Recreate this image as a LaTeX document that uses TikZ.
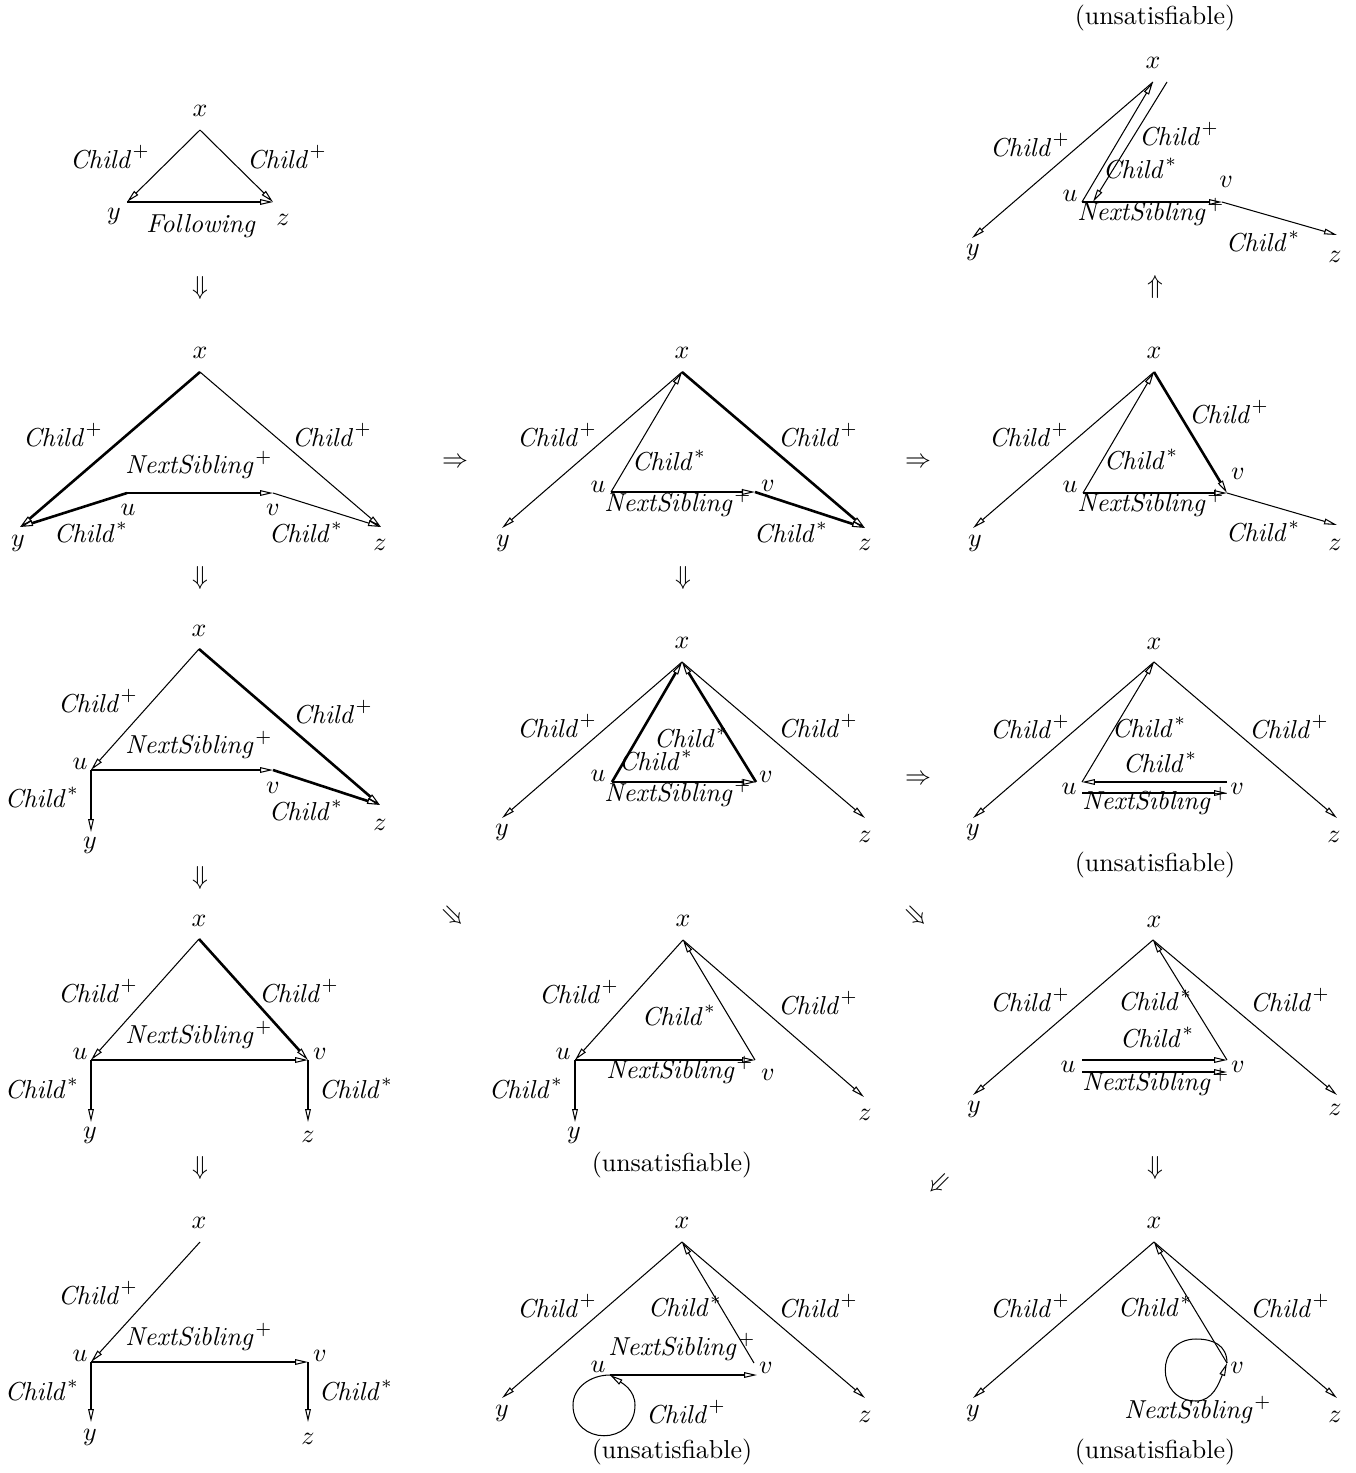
\documentclass[tikz,border=0pt]{standalone}
\usepackage{amssymb}
\usetikzlibrary{arrows.meta}
\newcommand{\Cplus}{$\mathit{Child}^+$}
\newcommand{\Cstar}{$\mathit{Child}^*$}
\newcommand{\NSplus}{$\mathit{NextSibling}^+$}
\tikzset{
  arr/.style={-{Triangle[open,length=5pt,width=2.2pt,line width=0.4pt]},line width=0.4pt},
  thk/.style={line width=1pt},
  imp/.style={inner sep=0pt},
}
\begin{document}
\begin{tikzpicture}[x=0.385pt,y=-0.385pt]
\useasboundingbox (0,0) rectangle (1356,1473);

% row 1, left
\coordinate (x11) at (200,130);
\coordinate (y11) at (127,202);
\coordinate (z11) at (273,202);
\draw[arr] (x11) -- (y11);
\draw[arr] (x11) -- (z11);
\draw[arr] (y11) -- (z11);
\node (lx11) at (200,111) {$x$};
\node (ly11) at (114,216) {$y$};
\node (lz11) at (283,220) {$z$};
\node (la11) at (110,157) {\Cplus};
\node (lb11) at (287,157) {\Cplus};
\node (lf11) at (201,226) {\textit{Following}};
\node[imp] (s11) at (200,288) {$\Downarrow$};

% row 1, right
\coordinate (x13) at (1153,82);
\coordinate (t13) at (1167,82);
\coordinate (y13) at (972,238);
\coordinate (u13) at (1082,202);
\coordinate (w13) at (1093,202);
\coordinate (v13) at (1222,202);
\coordinate (z13) at (1337,235);
\draw[arr] (x13) -- (y13);
\draw[arr] (u13) -- (x13);
\draw[arr] (t13) -- (w13);
\draw[arr] (u13) -- (v13);
\draw[arr] (v13) -- (z13);
\node (lq13) at (1155,18) {(unsatisfiable)};
\node (lx13) at (1153,63) {$x$};
\node (la13) at (1030,145) {\Cplus};
\node (lb13) at (1179,134) {\Cplus};
\node (lc13) at (1140,168) {\Cstar};
\node (lu13) at (1070,196) {$u$};
\node (lv13) at (1226,182) {$v$};
\node (ln13) at (1151,212) {\NSplus};
\node (ld13) at (1263,241) {\Cstar};
\node (ly13) at (973,252) {$y$};
\node (lz13) at (1335,257) {$z$};
\node[imp] (s13) at (1155,287) {$\Uparrow$};

% row 2, left
\coordinate (x21) at (200,372);
\coordinate (y21) at (20,527);
\coordinate (z21) at (381,527);
\coordinate (u21) at (127,493);
\coordinate (v21) at (273,493);
\draw[arr,thk] (x21) -- (y21);
\draw[arr] (x21) -- (z21);
\draw[arr,thk] (u21) -- (y21);
\draw[arr] (u21) -- (v21);
\draw[arr] (v21) -- (z21);
\node (lx21) at (200,353) {$x$};
\node (la21) at (63,435) {\Cplus};
\node (lb21) at (332,435) {\Cplus};
\node (ln21) at (199,465) {\NSplus};
\node (lu21) at (128,510) {$u$};
\node (lv21) at (273,510) {$v$};
\node (lc21) at (91,532) {\Cstar};
\node (ld21) at (306,532) {\Cstar};
\node (ly21) at (18,543) {$y$};
\node (lz21) at (380,545) {$z$};
\node[imp] (s21) at (200,578) {$\Downarrow$};
\node[imp] (r21) at (455,463) {$\Rightarrow$};

% row 2, middle
\coordinate (x22) at (682,372);
\coordinate (y22) at (502,528);
\coordinate (z22) at (865,528);
\coordinate (u22) at (611,492);
\coordinate (v22) at (755,492);
\draw[arr] (x22) -- (y22);
\draw[arr] (u22) -- (x22);
\draw[arr,thk] (x22) -- (z22);
\draw[arr] (u22) -- (v22);
\draw[arr,thk] (v22) -- (z22);
\node (lx22) at (682,353) {$x$};
\node (la22) at (557,435) {\Cplus};
\node (lb22) at (818,435) {\Cplus};
\node (lc22) at (669,460) {\Cstar};
\node (lu22) at (598,487) {$u$};
\node (lv22) at (768,486) {$v$};
\node (ln22) at (678,503) {\NSplus};
\node (ld22) at (791,532) {\Cstar};
\node (ly22) at (503,543) {$y$};
\node (lz22) at (865,545) {$z$};
\node[imp] (s22) at (683,578) {$\Downarrow$};
\node[imp] (r22) at (918,463) {$\Rightarrow$};

% row 2, right
\coordinate (x23) at (1154,372);
\coordinate (y23) at (973,528);
\coordinate (z23) at (1337,525);
\coordinate (u23) at (1083,493);
\coordinate (v23) at (1227,493);
\draw[arr] (x23) -- (y23);
\draw[arr] (u23) -- (x23);
\draw[arr,thk] (x23) -- (v23);
\draw[arr,thk] (u23) -- (v23);
\draw[arr] (v23) -- (z23);
\node (lx23) at (1154,353) {$x$};
\node (la23) at (1029,435) {\Cplus};
\node (lb23) at (1229,412) {\Cplus};
\node (lc23) at (1141,459) {\Cstar};
\node (lu23) at (1070,487) {$u$};
\node (lv23) at (1238,474) {$v$};
\node (ln23) at (1151,503) {\NSplus};
\node (ld23) at (1263,531) {\Cstar};
\node (ly23) at (975,543) {$y$};
\node (lz23) at (1335,545) {$z$};

% row 3, left
\coordinate (x31) at (199,649);
\coordinate (u31) at (91,770);
\coordinate (v31) at (273,770);
\coordinate (z31) at (380,805);
\coordinate (y31) at (91,832);
\draw[arr] (x31) -- (u31);
\draw[arr,thk] (x31) -- (z31);
\draw[arr] (u31) -- (v31);
\draw[arr,thk] (v31) -- (z31);
\draw[arr] (u31) -- (y31);
\node (lx31) at (199,631) {$x$};
\node (la31) at (98,701) {\Cplus};
\node (lb31) at (333,712) {\Cplus};
\node (ln31) at (199,745) {\NSplus};
\node (lu31) at (80,764) {$u$};
\node (lv31) at (273,788) {$v$};
\node (lc31) at (42,797) {\Cstar};
\node (ld31) at (306,810) {\Cstar};
\node (lz31) at (380,825) {$z$};
\node (ly31) at (90,845) {$y$};
\node[imp] (s31) at (200,878) {$\Downarrow$};
\node[imp,rotate=-45] (r31) at (452,917) {$\Rightarrow$};

% row 3, middle
\coordinate (x32) at (682,662);
\coordinate (u32) at (612,782);
\coordinate (v32) at (756,782);
\coordinate (y32) at (502,818);
\coordinate (z32) at (865,818);
\draw[arr] (x32) -- (y32);
\draw[arr] (x32) -- (z32);
\draw[arr,thk] (u32) -- (x32);
\draw[arr,thk] (v32) -- (x32);
\draw[arr] (u32) -- (v32);
\node (lx32) at (682,643) {$x$};
\node (la32) at (557,726) {\Cplus};
\node (lb32) at (818,726) {\Cplus};
\node (lc32) at (691,737) {\Cstar};
\node (ld32) at (656,760) {\Cstar};
\node (lu32) at (598,776) {$u$};
\node (lv32) at (766,777) {$v$};
\node (ln32) at (678,793) {\NSplus};
\node (ly32) at (502,832) {$y$};
\node (lz32) at (865,837) {$z$};
\node[imp,rotate=-45] (r32) at (915,917) {$\Rightarrow$};

% row 3, right
\coordinate (x33) at (1154,662);
\coordinate (y33) at (973,818);
\coordinate (z33) at (1337,818);
\coordinate (u33) at (1082,782);
\coordinate (v33) at (1227,782);
\coordinate (p33) at (1082,793);
\coordinate (q33) at (1227,793);
\draw[arr] (x33) -- (y33);
\draw[arr] (x33) -- (z33);
\draw[arr] (u33) -- (x33);
\draw[arr] (v33) -- (u33);
\draw[arr] (p33) -- (q33);
\node (lx33) at (1154,644) {$x$};
\node (la33) at (1030,727) {\Cplus};
\node (lc33) at (1149,727) {\Cstar};
\node (lb33) at (1289,727) {\Cplus};
\node (ld33) at (1160,762) {\Cstar};
\node (lu33) at (1069,789) {$u$};
\node (lv33) at (1237,789) {$v$};
\node (ln33) at (1156,801) {\NSplus};
\node (ly33) at (973,832) {$y$};
\node (lz33) at (1334,837) {$z$};
\node (lq33) at (1155,865) {(unsatisfiable)};
\node[imp] (r33) at (918,780) {$\Rightarrow$};

% row 4, left
\coordinate (x41) at (199,939);
\coordinate (u41) at (91,1060);
\coordinate (v41) at (308,1060);
\coordinate (y41) at (91,1122);
\coordinate (z41) at (308,1122);
\draw[arr] (x41) -- (u41);
\draw[arr,thk] (x41) -- (v41);
\draw[arr,thk] (u41) -- (v41);
\draw[arr] (u41) -- (y41);
\draw[arr] (v41) -- (z41);
\node (lx41) at (199,921) {$x$};
\node (la41) at (98,991) {\Cplus};
\node (lb41) at (299,991) {\Cplus};
\node (ln41) at (199,1035) {\NSplus};
\node (lu41) at (80,1054) {$u$};
\node (lv41) at (320,1054) {$v$};
\node (lc41) at (42,1088) {\Cstar};
\node (ld41) at (356,1088) {\Cstar};
\node (ly41) at (90,1135) {$y$};
\node (lz41) at (308,1137) {$z$};
\node[imp] (s41) at (200,1168) {$\Downarrow$};

% row 4, middle
\coordinate (x42) at (683,940);
\coordinate (u42) at (575,1060);
\coordinate (v42) at (755,1060);
\coordinate (y42) at (575,1122);
\coordinate (z42) at (864,1097);
\draw[arr] (x42) -- (u42);
\draw[arr] (v42) -- (x42);
\draw[arr] (x42) -- (z42);
\draw[arr] (u42) -- (v42);
\draw[arr] (u42) -- (y42);
\node (lx42) at (683,921) {$x$};
\node (la42) at (579,992) {\Cplus};
\node (lc42) at (679,1015) {\Cstar};
\node (lb42) at (818,1003) {\Cplus};
\node (lu42) at (563,1054) {$u$};
\node (ln42) at (680,1070) {\NSplus};
\node (lv42) at (768,1075) {$v$};
\node (ld42) at (526,1088) {\Cstar};
\node (ly42) at (574,1135) {$y$};
\node (lz42) at (865,1115) {$z$};
\node (lq42) at (672,1165) {(unsatisfiable)};

% row 4, right
\coordinate (x43) at (1153,940);
\coordinate (y43) at (973,1095);
\coordinate (z43) at (1337,1095);
\coordinate (u43) at (1082,1060);
\coordinate (v43) at (1227,1060);
\coordinate (p43) at (1082,1072);
\coordinate (q43) at (1227,1072);
\draw[arr] (x43) -- (y43);
\draw[arr] (x43) -- (z43);
\draw[arr] (v43) -- (x43);
\draw[arr,thk] (u43) -- (v43);
\draw[arr,thk] (p43) -- (q43);
\node (lx43) at (1154,922) {$x$};
\node (la43) at (1030,1000) {\Cplus};
\node (lc43) at (1155,1000) {\Cstar};
\node (lb43) at (1290,1000) {\Cplus};
\node (ld43) at (1157,1037) {\Cstar};
\node (lu43) at (1068,1067) {$u$};
\node (lv43) at (1238,1067) {$v$};
\node (ln43) at (1156,1082) {\NSplus};
\node (ly43) at (974,1109) {$y$};
\node (lz43) at (1335,1110) {$z$};
\node[imp] (s43) at (1155,1168) {$\Downarrow$};
\node[imp,rotate=45] (r43) at (940,1185) {$\Leftarrow$};

% row 5, left
\coordinate (x51) at (200,1242);
\coordinate (u51) at (91,1362);
\coordinate (v51) at (308,1362);
\coordinate (y51) at (91,1422);
\coordinate (z51) at (308,1422);
\draw[arr] (x51) -- (u51);
\draw[arr] (u51) -- (v51);
\draw[arr] (u51) -- (y51);
\draw[arr] (v51) -- (z51);
\node (lx51) at (199,1223) {$x$};
\node (la51) at (98,1293) {\Cplus};
\node (ln51) at (199,1337) {\NSplus};
\node (lu51) at (80,1356) {$u$};
\node (lv51) at (320,1356) {$v$};
\node (lc51) at (42,1390) {\Cstar};
\node (ld51) at (356,1390) {\Cstar};
\node (ly51) at (90,1437) {$y$};
\node (lz51) at (308,1439) {$z$};

% row 5, middle
\coordinate (x52) at (682,1242);
\coordinate (y52) at (502,1398);
\coordinate (z52) at (865,1398);
\coordinate (u52) at (610,1375);
\coordinate (v52) at (757,1375);
\coordinate (w52) at (754,1363);
\draw[arr] (x52) -- (y52);
\draw[arr] (x52) -- (z52);
\draw[arr] (w52) -- (x52);
\draw[arr] (u52) -- (v52);
\draw[arr] (u52) .. controls (590,1375) and (573,1388) .. (573,1405)
  .. controls (573,1446) and (635,1446) .. (635,1405)
  .. controls (635,1390) and (622,1383) .. (u52);
\node (lx52) at (682,1223) {$x$};
\node (la52) at (557,1306) {\Cplus};
\node (lc52) at (685,1306) {\Cstar};
\node (lb52) at (818,1306) {\Cplus};
\node (ln52) at (682,1347) {\NSplus};
\node (lu52) at (598,1367) {$u$};
\node (lv52) at (766,1368) {$v$};
\node (ly52) at (502,1413) {$y$};
\node (ld52) at (686,1412) {\Cplus};
\node (lz52) at (865,1417) {$z$};
\node (lq52) at (672,1452) {(unsatisfiable)};

% row 5, right
\coordinate (x53) at (1154,1242);
\coordinate (y53) at (973,1398);
\coordinate (z53) at (1337,1398);
\coordinate (v53) at (1227,1363);
\draw[arr] (x53) -- (y53);
\draw[arr] (x53) -- (z53);
\draw[arr] (v53) -- (x53);
\draw[arr] (v53) .. controls (1227,1345) and (1213,1339) .. (1196,1339)
  .. controls (1155,1339) and (1155,1401) .. (1196,1401)
  .. controls (1213,1401) and (1219,1383) .. (v53);
\node (lx53) at (1154,1223) {$x$};
\node (la53) at (1030,1306) {\Cplus};
\node (lc53) at (1155,1306) {\Cstar};
\node (lb53) at (1290,1306) {\Cplus};
\node (lv53) at (1237,1368) {$v$};
\node (ln53) at (1198,1410) {\NSplus};
\node (ly53) at (973,1413) {$y$};
\node (lz53) at (1335,1417) {$z$};
\node (lq53) at (1155,1452) {(unsatisfiable)};
\end{tikzpicture}
\end{document}
